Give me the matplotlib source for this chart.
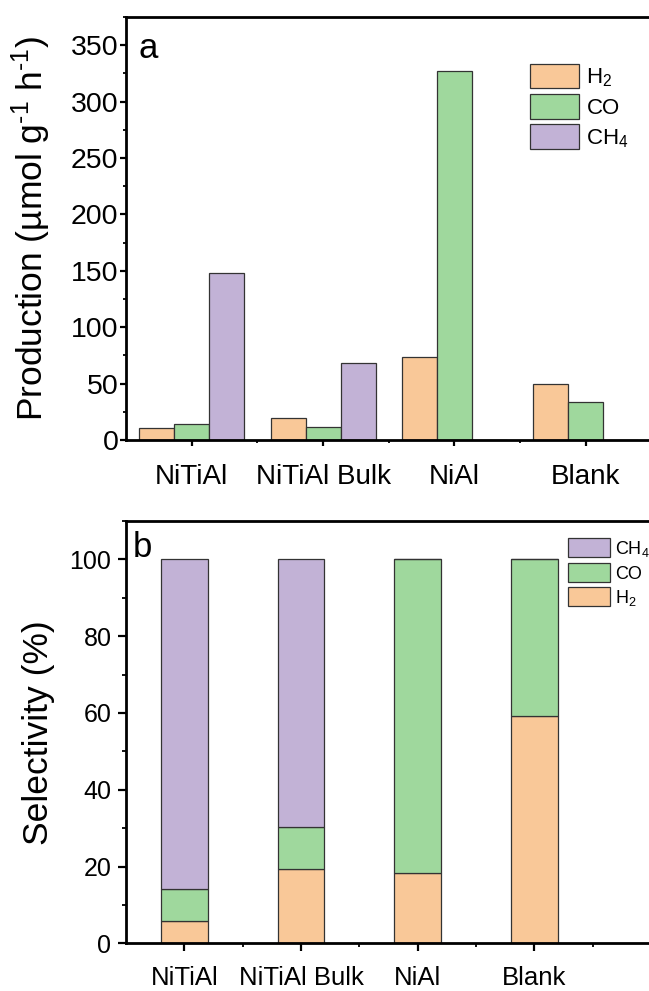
import numpy as np
import matplotlib
matplotlib.use("Agg")
import matplotlib.pyplot as plt
from matplotlib.ticker import MultipleLocator, FixedLocator

plt.rcParams['font.family'] = ['Liberation Sans', 'DejaVu Sans']
plt.rcParams['mathtext.fontset'] = 'custom'
plt.rcParams['mathtext.rm'] = 'Liberation Sans'
plt.rcParams['mathtext.it'] = 'Liberation Sans:italic'

# samples and gas products
catalysts = ['NiTiAl', 'NiTiAl Bulk', 'NiAl', 'Blank']
gases = ['H$_2$', 'CO', 'CH$_4$']

# production rates, umol g-1 h-1
prod_h2 = [10.4, 19.2, 73.8, 49.3]
prod_co = [14.2, 11.2, 327.3, 34.0]
prod_ch4 = [147.7, 67.9, 0, 0]

# selectivity, %
sel_h2 = [5.8, 19.3, 18.4, 59.2]
sel_co = [8.3, 11.1, 81.6, 40.8]
sel_ch4 = [85.9, 69.6, 0, 0]

c_h2 = '#F9C898'
c_co = '#9FD89D'
c_ch4 = '#C2B2D6'
edge = '#333333'

W, H = 649, 991
fig = plt.figure(figsize=(W / 100, H / 100), dpi=100)


def px_axes(left, top, right, bottom):
    return fig.add_axes([left / W, 1 - bottom / H, (right - left) / W, (bottom - top) / H])


def style_axes(ax, major_len, minor_len):
    for s in ['left', 'top', 'bottom']:
        ax.spines[s].set_linewidth(2.0)
    ax.spines['right'].set_visible(False)
    ax.tick_params(which='major', direction='out', length=major_len, width=1.6)
    ax.tick_params(which='minor', direction='out', length=minor_len, width=1.3)
    ax.tick_params(top=False, right=False, which='both')


x = np.arange(1, len(catalysts) + 1)

# ---- a: production rates ----
ax1 = px_axes(126, 17, 651.6, 440)
w = 0.8 / 3
ax1.bar(x - w, prod_h2, w, color=c_h2, edgecolor=edge, linewidth=0.9, label=gases[0])
ax1.bar(x, prod_co, w, color=c_co, edgecolor=edge, linewidth=0.9, label=gases[1])
ax1.bar(x + w, prod_ch4, w, color=c_ch4, edgecolor=edge, linewidth=0.9, label=gases[2])
ax1.set_xlim(0.5, 4.5)
ax1.set_ylim(0, 375)
ax1.yaxis.set_major_locator(MultipleLocator(50))
ax1.yaxis.set_minor_locator(MultipleLocator(25))
ax1.set_xticks(x)
ax1.set_xticklabels(catalysts)
ax1.xaxis.set_minor_locator(FixedLocator([1.5, 2.5, 3.5]))
style_axes(ax1, 4.5, 2.5)
ax1.tick_params(axis='y', labelsize=20.5, pad=1)
ax1.tick_params(axis='x', labelsize=20, pad=13)
ax1.set_ylabel(r'Production (µmol g$^{\text{-1}}$ h$^{\text{-1}}$)', fontsize=25.5)
ax1.yaxis.set_label_coords(-0.138, 0.5)
ax1.text(138 / W, 1 - 58 / H, 'a', transform=fig.transFigure, fontsize=25, ha='left', va='baseline')
ax1.legend(loc='upper left', bbox_to_anchor=(530 / W, 1 - 64 / H), bbox_transform=fig.transFigure,
           frameon=False, fontsize=16, handlelength=2.2, handleheight=1.3,
           labelspacing=0.24, handletextpad=0.34, borderpad=0, borderaxespad=0)

# ---- b: selectivity ----
ax2 = px_axes(126, 521, 651, 943.3)
bw = 0.4
ax2.bar(x, sel_h2, bw, color=c_h2, edgecolor=edge, linewidth=0.9, label=gases[0])
ax2.bar(x, sel_co, bw, bottom=sel_h2, color=c_co, edgecolor=edge, linewidth=0.9, label=gases[1])
ax2.bar(x, sel_ch4, bw, bottom=np.add(sel_h2, sel_co), color=c_ch4, edgecolor=edge, linewidth=0.9,
        label=gases[2])
ax2.set_xlim(0.5, 5.0)
ax2.set_ylim(0, 110)
ax2.yaxis.set_major_locator(MultipleLocator(20))
ax2.yaxis.set_minor_locator(MultipleLocator(10))
ax2.set_xticks(x)
ax2.set_xticklabels(catalysts)
ax2.xaxis.set_minor_locator(FixedLocator([1.5, 2.5, 3.5, 4.5]))
style_axes(ax2, 5.5, 3)
ax2.tick_params(axis='y', labelsize=18, pad=5)
ax2.tick_params(axis='x', labelsize=18.5, pad=11)
ax2.set_ylabel('Selectivity (%)', fontsize=25.5)
ax2.yaxis.set_label_coords(-0.135, 0.5)
ax2.text(133 / W, 1 - 557 / H, 'b', transform=fig.transFigure, fontsize=25, ha='left', va='baseline')
handles, labels = ax2.get_legend_handles_labels()
ax2.legend(handles[::-1], labels[::-1], loc='upper left', bbox_to_anchor=(568 / W, 1 - 538 / H),
           bbox_transform=fig.transFigure, frameon=False, fontsize=13, handlelength=2.3,
           handleheight=1.25, labelspacing=0.25, handletextpad=0.32, borderpad=0, borderaxespad=0)

fig.savefig('out.png', dpi=100)
